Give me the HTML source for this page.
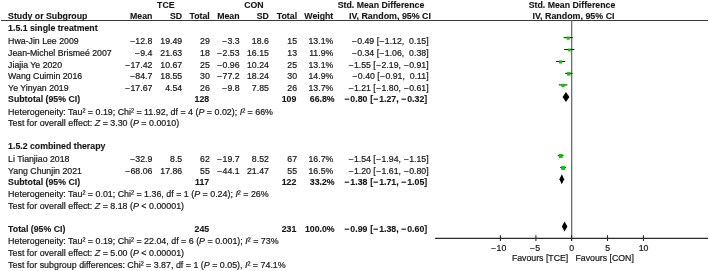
<!DOCTYPE html>
<html><head><meta charset="utf-8"><style>
html,body{margin:0;padding:0;background:#fff;width:709px;height:271px;overflow:hidden}
svg{display:block;font-family:"Liberation Sans",sans-serif;will-change:transform}
text{stroke:#161616;stroke-width:0.2px;paint-order:stroke}
text[font-weight=bold]{stroke-width:0.12px}
</style></head><body>
<svg width="709" height="271" viewBox="0 0 709 271" font-family="Liberation Sans, sans-serif" font-size="8.75" fill="#161616">
<line x1="1" y1="20.5" x2="708" y2="20.5" stroke="#3a3a3a" stroke-width="1.1"/>
<line x1="571.70" y1="20.3" x2="571.70" y2="241" stroke="#606060" stroke-width="1.2"/>
<line x1="435.1" y1="238.3" x2="708.1" y2="238.3" stroke="#2a2a2a" stroke-width="1.3"/>
<line x1="500.40" y1="235.2" x2="500.40" y2="241" stroke="#2a2a2a" stroke-width="1.1"/>
<line x1="535.90" y1="235.2" x2="535.90" y2="241" stroke="#2a2a2a" stroke-width="1.1"/>
<line x1="571.50" y1="235.2" x2="571.50" y2="241" stroke="#2a2a2a" stroke-width="1.1"/>
<line x1="607.50" y1="235.2" x2="607.50" y2="241" stroke="#2a2a2a" stroke-width="1.1"/>
<line x1="643.40" y1="235.2" x2="643.40" y2="241" stroke="#2a2a2a" stroke-width="1.1"/>
<line x1="563.67" y1="37.6" x2="572.78" y2="37.6" stroke="#222" stroke-width="1.1"/>
<rect x="566.65" y="36.56" width="3.08" height="3.08" fill="#00c800"/>
<line x1="564.10" y1="49.5" x2="574.42" y2="49.5" stroke="#222" stroke-width="1.1"/>
<rect x="567.86" y="48.60" width="2.80" height="2.80" fill="#00c800"/>
<line x1="556.00" y1="61.5" x2="565.18" y2="61.5" stroke="#222" stroke-width="1.1"/>
<rect x="559.05" y="60.46" width="3.08" height="3.08" fill="#00c800"/>
<line x1="565.18" y1="73.4" x2="572.49" y2="73.4" stroke="#222" stroke-width="1.1"/>
<rect x="567.08" y="72.15" width="3.50" height="3.50" fill="#00c800"/>
<line x1="558.79" y1="84.9" x2="567.33" y2="84.9" stroke="#222" stroke-width="1.1"/>
<rect x="561.41" y="83.79" width="3.22" height="3.22" fill="#00c800"/>
<line x1="557.79" y1="155.5" x2="563.45" y2="155.5" stroke="#222" stroke-width="1.1"/>
<rect x="558.70" y="154.04" width="3.92" height="3.92" fill="#00c800"/>
<line x1="560.16" y1="167.5" x2="565.96" y2="167.5" stroke="#222" stroke-width="1.1"/>
<rect x="561.16" y="166.06" width="3.88" height="3.88" fill="#00c800"/>
<polygon points="562.59,97.0 565.96,92.0 569.41,97.0 565.96,102.0" fill="#000"/>
<polygon points="559.44,179.3 561.81,174.3 564.17,179.3 561.81,184.3" fill="#000"/>
<polygon points="561.81,226.6 564.60,221.6 567.40,226.6 564.60,231.6" fill="#000"/>
<text x="165.80" y="7.90" text-anchor="middle" font-weight="bold">TCE</text>
<text x="253.90" y="7.90" text-anchor="middle" font-weight="bold">CON</text>
<text x="381.00" y="7.90" text-anchor="middle" font-weight="bold">Std. Mean Difference</text>
<text x="572.00" y="7.90" text-anchor="middle" font-weight="bold">Std. Mean Difference</text>
<text x="8.10" y="19.30" font-weight="bold">Study or Subgroup</text>
<text x="152.40" y="19.30" text-anchor="end" font-weight="bold">Mean</text>
<text x="182.20" y="19.30" text-anchor="end" font-weight="bold">SD</text>
<text x="209.80" y="19.30" text-anchor="end" font-weight="bold">Total</text>
<text x="239.60" y="19.30" text-anchor="end" font-weight="bold">Mean</text>
<text x="268.90" y="19.30" text-anchor="end" font-weight="bold">SD</text>
<text x="297.10" y="19.30" text-anchor="end" font-weight="bold">Total</text>
<text x="333.30" y="19.30" text-anchor="end" font-weight="bold">Weight</text>
<text x="431.00" y="19.30" text-anchor="end" font-weight="bold" font-size="8.9">IV, Random, 95% CI</text>
<text x="573.50" y="19.30" text-anchor="middle" font-weight="bold" font-size="8.9">IV, Random, 95% CI</text>
<text x="8.10" y="31.10" font-weight="bold">1.5.1 single treatment</text>
<text x="8.10" y="149.00" font-weight="bold">1.5.2 combined therapy</text>
<text x="8.10" y="43.80">Hwa-Jin Lee 2009</text>
<text x="152.40" y="43.80" text-anchor="end"><tspan letter-spacing="0.6">−</tspan>12.8</text>
<text x="182.20" y="43.80" text-anchor="end">19.49</text>
<text x="209.80" y="43.80" text-anchor="end">29</text>
<text x="239.60" y="43.80" text-anchor="end"><tspan letter-spacing="0.6">−</tspan>3.3</text>
<text x="268.90" y="43.80" text-anchor="end">18.6</text>
<text x="297.10" y="43.80" text-anchor="end">15</text>
<text x="333.30" y="43.80" text-anchor="end">13.1%</text>
<text x="428.60" y="43.80" text-anchor="end" xml:space="preserve"><tspan letter-spacing="0.6">−</tspan>0.49 [<tspan letter-spacing="0.6">−</tspan>1.12,  0.15]</text>
<text x="8.10" y="55.80">Jean-Michel Brismeé 2007</text>
<text x="152.40" y="55.80" text-anchor="end"><tspan letter-spacing="0.6">−</tspan>9.4</text>
<text x="182.20" y="55.80" text-anchor="end">21.63</text>
<text x="209.80" y="55.80" text-anchor="end">18</text>
<text x="239.60" y="55.80" text-anchor="end"><tspan letter-spacing="0.6">−</tspan>2.53</text>
<text x="268.90" y="55.80" text-anchor="end">16.15</text>
<text x="297.10" y="55.80" text-anchor="end">13</text>
<text x="333.30" y="55.80" text-anchor="end">11.9%</text>
<text x="428.60" y="55.80" text-anchor="end" xml:space="preserve"><tspan letter-spacing="0.6">−</tspan>0.34 [<tspan letter-spacing="0.6">−</tspan>1.06,  0.38]</text>
<text x="8.10" y="67.50">Jiajia Ye 2020</text>
<text x="152.40" y="67.50" text-anchor="end"><tspan letter-spacing="0.6">−</tspan>17.42</text>
<text x="182.20" y="67.50" text-anchor="end">10.67</text>
<text x="209.80" y="67.50" text-anchor="end">25</text>
<text x="239.60" y="67.50" text-anchor="end"><tspan letter-spacing="0.6">−</tspan>0.96</text>
<text x="268.90" y="67.50" text-anchor="end">10.24</text>
<text x="297.10" y="67.50" text-anchor="end">25</text>
<text x="333.30" y="67.50" text-anchor="end">13.1%</text>
<text x="428.60" y="67.50" text-anchor="end" xml:space="preserve"><tspan letter-spacing="0.6">−</tspan>1.55 [<tspan letter-spacing="0.6">−</tspan>2.19, <tspan letter-spacing="0.6">−</tspan>0.91]</text>
<text x="8.10" y="79.20">Wang Cuimin 2016</text>
<text x="152.40" y="79.20" text-anchor="end"><tspan letter-spacing="0.6">−</tspan>84.7</text>
<text x="182.20" y="79.20" text-anchor="end">18.55</text>
<text x="209.80" y="79.20" text-anchor="end">30</text>
<text x="239.60" y="79.20" text-anchor="end"><tspan letter-spacing="0.6">−</tspan>77.2</text>
<text x="268.90" y="79.20" text-anchor="end">18.24</text>
<text x="297.10" y="79.20" text-anchor="end">30</text>
<text x="333.30" y="79.20" text-anchor="end">14.9%</text>
<text x="428.60" y="79.20" text-anchor="end" xml:space="preserve"><tspan letter-spacing="0.6">−</tspan>0.40 [<tspan letter-spacing="0.6">−</tspan>0.91,  0.11]</text>
<text x="8.10" y="90.90">Ye Yinyan 2019</text>
<text x="152.40" y="90.90" text-anchor="end"><tspan letter-spacing="0.6">−</tspan>17.67</text>
<text x="182.20" y="90.90" text-anchor="end">4.54</text>
<text x="209.80" y="90.90" text-anchor="end">26</text>
<text x="239.60" y="90.90" text-anchor="end"><tspan letter-spacing="0.6">−</tspan>9.8</text>
<text x="268.90" y="90.90" text-anchor="end">7.85</text>
<text x="297.10" y="90.90" text-anchor="end">26</text>
<text x="333.30" y="90.90" text-anchor="end">13.7%</text>
<text x="428.60" y="90.90" text-anchor="end" xml:space="preserve"><tspan letter-spacing="0.6">−</tspan>1.21 [<tspan letter-spacing="0.6">−</tspan>1.80, <tspan letter-spacing="0.6">−</tspan>0.61]</text>
<text x="8.10" y="161.70">Li Tianjiao 2018</text>
<text x="152.40" y="161.70" text-anchor="end"><tspan letter-spacing="0.6">−</tspan>32.9</text>
<text x="182.20" y="161.70" text-anchor="end">8.5</text>
<text x="209.80" y="161.70" text-anchor="end">62</text>
<text x="239.60" y="161.70" text-anchor="end"><tspan letter-spacing="0.6">−</tspan>19.7</text>
<text x="268.90" y="161.70" text-anchor="end">8.52</text>
<text x="297.10" y="161.70" text-anchor="end">67</text>
<text x="333.30" y="161.70" text-anchor="end">16.7%</text>
<text x="428.60" y="161.70" text-anchor="end" xml:space="preserve"><tspan letter-spacing="0.6">−</tspan>1.54 [<tspan letter-spacing="0.6">−</tspan>1.94, <tspan letter-spacing="0.6">−</tspan>1.15]</text>
<text x="8.10" y="173.70">Yang Chunjin 2021</text>
<text x="152.40" y="173.70" text-anchor="end"><tspan letter-spacing="0.6">−</tspan>68.06</text>
<text x="182.20" y="173.70" text-anchor="end">17.86</text>
<text x="209.80" y="173.70" text-anchor="end">55</text>
<text x="239.60" y="173.70" text-anchor="end"><tspan letter-spacing="0.6">−</tspan>44.1</text>
<text x="268.90" y="173.70" text-anchor="end">21.47</text>
<text x="297.10" y="173.70" text-anchor="end">55</text>
<text x="333.30" y="173.70" text-anchor="end">16.5%</text>
<text x="428.60" y="173.70" text-anchor="end" xml:space="preserve"><tspan letter-spacing="0.6">−</tspan>1.20 [<tspan letter-spacing="0.6">−</tspan>1.61, <tspan letter-spacing="0.6">−</tspan>0.80]</text>
<text x="8.10" y="102.20" font-weight="bold">Subtotal (95% CI)</text>
<text x="209.20" y="102.20" text-anchor="end" font-weight="bold">128</text>
<text x="296.30" y="102.20" text-anchor="end" font-weight="bold">109</text>
<text x="334.60" y="102.20" text-anchor="end" font-weight="bold">66.8%</text>
<text x="367.40" y="102.20" text-anchor="end" font-weight="bold"><tspan letter-spacing="1.0">−</tspan>0.80</text>
<text x="427.20" y="102.20" text-anchor="end" font-weight="bold">[<tspan letter-spacing="1.0">−</tspan>1.27, <tspan letter-spacing="1.0">−</tspan>0.32]</text>
<text x="8.10" y="184.80" font-weight="bold">Subtotal (95% CI)</text>
<text x="209.20" y="184.80" text-anchor="end" font-weight="bold">117</text>
<text x="296.30" y="184.80" text-anchor="end" font-weight="bold">122</text>
<text x="334.60" y="184.80" text-anchor="end" font-weight="bold">33.2%</text>
<text x="367.40" y="184.80" text-anchor="end" font-weight="bold"><tspan letter-spacing="1.0">−</tspan>1.38</text>
<text x="427.20" y="184.80" text-anchor="end" font-weight="bold">[<tspan letter-spacing="1.0">−</tspan>1.71, <tspan letter-spacing="1.0">−</tspan>1.05]</text>
<text x="8.10" y="231.60" font-weight="bold">Total (95% CI)</text>
<text x="209.20" y="231.60" text-anchor="end" font-weight="bold">245</text>
<text x="296.30" y="231.60" text-anchor="end" font-weight="bold">231</text>
<text x="334.60" y="231.60" text-anchor="end" font-weight="bold">100.0%</text>
<text x="367.40" y="231.60" text-anchor="end" font-weight="bold"><tspan letter-spacing="1.0">−</tspan>0.99</text>
<text x="427.20" y="231.60" text-anchor="end" font-weight="bold">[<tspan letter-spacing="1.0">−</tspan>1.38, <tspan letter-spacing="1.0">−</tspan>0.60]</text>
<text x="8.10" y="114.80" font-size="8.88">Heterogeneity: Tau² = 0.19; Chi² = 11.92, df = 4 (<tspan font-style="italic">P</tspan> = 0.02); <tspan font-style="italic">I</tspan>² = 66%</text>
<text x="8.10" y="126.40" font-size="8.88">Test for overall effect: <tspan font-style="italic">Z</tspan> = 3.30 (<tspan font-style="italic">P</tspan> = 0.0010)</text>
<text x="8.10" y="197.30" font-size="8.88">Heterogeneity: Tau² = 0.01; Chi² = 1.36, df = 1 (<tspan font-style="italic">P</tspan> = 0.24); <tspan font-style="italic">I</tspan>² = 26%</text>
<text x="8.10" y="209.00" font-size="8.88">Test for overall effect: <tspan font-style="italic">Z</tspan> = 8.18 (<tspan font-style="italic">P</tspan> &lt; 0.00001)</text>
<text x="8.10" y="244.40" font-size="8.88">Heterogeneity: Tau² = 0.19; Chi² = 22.04, df = 6 (<tspan font-style="italic">P</tspan> = 0.001); <tspan font-style="italic">I</tspan>² = 73%</text>
<text x="8.10" y="256.00" font-size="8.88">Test for overall effect: <tspan font-style="italic">Z</tspan> = 5.00 (<tspan font-style="italic">P</tspan> &lt; 0.00001)</text>
<text x="8.10" y="267.60" font-size="8.88">Test for subgroup differences: Chi² = 3.87, df = 1 (<tspan font-style="italic">P</tspan> = 0.05), <tspan font-style="italic">I</tspan>² = 74.1%</text>
<text x="498.60" y="250.50" text-anchor="middle"><tspan letter-spacing="0.6">−</tspan>10</text>
<text x="534.80" y="250.50" text-anchor="middle"><tspan letter-spacing="0.6">−</tspan>5</text>
<text x="571.60" y="250.50" text-anchor="middle">0</text>
<text x="607.80" y="250.50" text-anchor="middle">5</text>
<text x="643.60" y="250.50" text-anchor="middle">10</text>
<text x="568.30" y="261.20" text-anchor="end">Favours [TCE]</text>
<text x="575.50" y="261.20">Favours [CON]</text>
</svg>
</body></html>
